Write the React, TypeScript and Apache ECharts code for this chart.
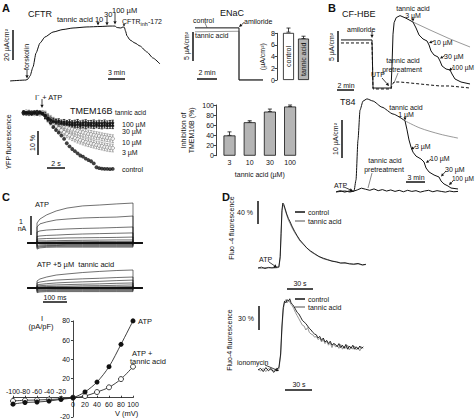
import React, { useEffect, useRef } from "react";
import * as echarts from "echarts";

const FONT = '"Liberation Sans", Arial, Helvetica, sans-serif';
const INK = "#111";
const GRAY = "#9a9a9a";

// ---------- A: CFTR short-circuit current (min, µA/cm²)
const cftrTime = [0, 2.77, 3.12, 3.47, 3.99, 4.51, 5.2, 6.07, 7.45, 9.19, 10.92, 13.34, 15.6, 17.33, 18.2, 18.54, 19.24, 19.58, 19.84, 20.02, 20.28, 20.8, 21.66, 22.53, 23.74, 24.78, 26.0];
const cftrCurrent = [2.7, 3.3, 4.0, 6.0, 12.0, 21.3, 28.0, 32.0, 35.3, 37.0, 38.0, 38.7, 39.0, 39.3, 39.3, 38.3, 38.0, 38.7, 38.3, 36.0, 32.7, 30.0, 28.0, 26.0, 22.0, 18.0, 14.0];

// ---------- A: ENaC trace
const enacTime = [0.2, 4.6, 4.6, 7.0];
const enacControl = [10.2, 10.2, 0.9, 0.9];
const enacTannic = [9.5, 9.6, 0.9, 0.9];
const enacGroups = ["control", "tannic acid"];
const enacMean = [8.2, 7.1];
const enacSem = [0.7, 0.4];

// ---------- A: TMEM16B YFP quenching (s, %)
const tmemTime = [0.4, 0.7, 1.0, 1.3, 1.6, 1.9, 2.2, 2.5, 2.8, 3.1, 3.4, 3.7, 4.0, 4.3, 4.6, 4.9, 5.2, 5.5, 5.8, 6.1, 6.4, 6.7, 7.0, 7.3, 7.6, 7.9, 8.2, 8.5, 8.8, 9.1, 9.4, 9.7, 10.0, 10.3];
const yfpControl = [100.3, 99.8, 100.4, 99.7, 100.5, 99.9, 100.2, 99.6, 98.9, 97.6, 95.9, 94.1, 92.9, 91.8, 90.6, 89.2, 87.4, 86.1, 85.0, 84.1, 83.2, 82.3, 81.8, 81.0, 80.4, 79.9, 79.0, 77.4, 77.0, 76.8, 76.7, 76.7, 76.6, 76.7];
const yfp100 = [100.6, 100.1, 99.5, 100.4, 99.8, 100.7, 100.0, 99.7, 99.0, 98.0, 97.2, 96.7, 96.3, 96.5, 96.0, 96.2, 95.8, 96.1, 95.7, 95.9, 96.2, 95.6, 95.9, 96.1, 95.7, 95.8, 96.0, 95.6, 95.9, 95.7, 96.0, 95.6, 95.8, 95.9];
const yfp30 = [99.6, 100.3, 100.2, 99.5, 100.1, 99.4, 100.5, 100.0, 98.8, 97.7, 96.9, 96.3, 96.0, 95.6, 95.5, 95.3, 95.4, 95.1, 95.2, 94.9, 95.1, 94.8, 95.0, 94.7, 94.9, 94.8, 94.6, 94.9, 94.7, 94.5, 94.8, 94.6, 94.7, 94.6];
const yfp10 = [99.9, 100.6, 99.6, 100.2, 99.8, 100.3, 99.5, 100.1, 99.2, 98.2, 97.4, 96.6, 96.0, 95.4, 94.9, 94.4, 94.0, 93.6, 93.2, 92.9, 92.6, 92.2, 91.9, 91.6, 91.3, 91.1, 90.8, 90.6, 90.4, 90.1, 89.9, 89.7, 89.5, 89.3];
const yfp3 = [100.1, 99.7, 100.5, 100.0, 99.6, 100.2, 99.9, 100.3, 99.0, 97.8, 96.6, 95.5, 94.5, 93.6, 92.8, 92.0, 91.3, 90.7, 90.1, 89.6, 89.1, 88.7, 88.3, 87.9, 87.6, 87.3, 87.0, 86.7, 86.4, 86.2, 85.9, 85.7, 85.5, 85.4];
const yfpErrHigh = 1.1;
const yfpErrLow = 1.6;
const tmemDose = ["3", "10", "30", "100"];
const tmemInhib = [40, 66, 87, 97];
const tmemInhibSem = [7, 3, 5, 3];

// ---------- B: CF-HBE (min, µA/cm²)
const hbeTime = [0.35, 4.0, 4.12, 6.24, 6.35, 6.47, 6.6, 6.85, 7.3, 8.0, 8.82];
const hbeCurrent = [8.6, 8.6, 1.09, 1.09, 4.5, 9.5, 11.3, 12.1, 12.4, 12.0, 11.4];
const hbeBranchTime = [8.82, 9.18, 9.53, 10.0, 10.47, 10.71, 10.94, 11.29, 11.76, 12.0, 12.24, 12.71, 13.18, 13.41, 13.76, 14.47, 15.53];
const hbeBranchCurrent = [11.4, 10.47, 9.38, 8.75, 8.44, 7.81, 6.88, 6.25, 5.94, 5.31, 4.53, 4.06, 3.91, 3.28, 2.5, 2.03, 1.72];
const hbeGrayTime = [8.82, 10.82, 13.18, 15.53];
const hbeGrayCurrent = [11.4, 10.16, 8.75, 7.5];
const hbePreTime = [0.35, 4.0, 4.12, 6.24, 6.35, 6.59, 7.29, 8.47, 9.65, 10.82, 12.0, 13.18, 14.35, 15.53];
const hbePreCurrent = [8.13, 8.13, 0.94, 0.94, 1.56, 2.03, 2.03, 1.88, 1.72, 1.56, 1.41, 1.41, 1.25, 1.09];

// ---------- B: T84 (min, µA/cm²)
const t84Time = [0.17, 1.67, 2.5, 3.17, 3.5, 3.83, 4.17, 4.67, 5.33, 6.33, 7.83, 9.67, 11.67];
const t84Current = [0.83, 1.11, 0.83, 1.11, 4.17, 15.28, 23.6, 26.1, 26.7, 26.1, 24.4, 22.5, 20.6];
const t84GrayTime = [11.67, 14.17, 17.5, 20.5];
const t84GrayCurrent = [20.6, 18.6, 16.9, 15.8];
const t84BranchTime = [11.67, 12.0, 12.33, 12.67, 13.0, 13.5, 14.33, 14.83, 15.17, 15.67, 16.5, 17.33, 17.67, 18.17, 18.83, 19.33, 20.5];
const t84BranchCurrent = [20.6, 18.1, 15.3, 13.3, 11.9, 10.8, 10.0, 9.17, 7.5, 6.39, 5.56, 5.0, 3.89, 3.06, 2.5, 1.94, 1.67];
const t84PreTime = [0.2, 0.9, 1.6, 2.3, 3.0, 3.7, 4.4, 5.1, 5.8, 6.5, 7.2, 7.9, 8.6, 9.3, 10.0, 10.7, 11.4, 12.1, 12.8, 13.5, 14.2, 14.9, 15.6, 16.3, 17.0, 17.7, 18.4, 19.1, 19.8, 20.5];
const t84PreCurrent = [0.9, 1.2, 0.8, 1.1, 1.0, 1.4, 1.9, 1.6, 1.3, 1.7, 1.2, 1.5, 1.1, 1.4, 1.0, 1.3, 0.9, 1.3, 1.0, 1.2, 0.8, 1.1, 1.3, 0.9, 1.2, 1.0, 0.8, 1.1, 0.9, 1.0];

// ---------- C: whole-cell currents (ms, nA)
const stepTime = [0, 12, 40, 80, 125, 190, 260, 330, 400];
const atpCurrents = [
  [1.11, 1.33, 1.56, 1.78, 1.94, 2.06, 2.11, 2.17, 2.22],
  [0.89, 1.06, 1.17, 1.28, 1.33, 1.39, 1.42, 1.44, 1.5],
  [0.61, 0.67, 0.72, 0.75, 0.78, 0.81, 0.83, 0.86, 0.89],
  [0.36, 0.39, 0.42, 0.44, 0.47, 0.5, 0.52, 0.54, 0.56],
  [0.22, 0.23, 0.25, 0.26, 0.28, 0.29, 0.3, 0.31, 0.33],
  [0.11, 0.12, 0.12, 0.13, 0.14, 0.15, 0.16, 0.17, 0.17],
  [0.05, 0.05, 0.06, 0.06, 0.07, 0.07, 0.08, 0.08, 0.08],
  [-0.14, -0.1, -0.09, -0.09, -0.08, -0.08, -0.08, -0.08, -0.08],
  [-0.22, -0.16, -0.14, -0.14, -0.13, -0.13, -0.13, -0.13, -0.13],
  [-0.28, -0.21, -0.19, -0.18, -0.18, -0.18, -0.18, -0.18, -0.18],
  [-0.34, -0.27, -0.24, -0.23, -0.23, -0.23, -0.23, -0.23, -0.23],
];
const taCurrents = [
  [0.39, 0.5, 0.61, 0.72, 0.78, 0.86, 0.92, 0.97, 1.0],
  [0.28, 0.33, 0.39, 0.44, 0.47, 0.51, 0.54, 0.58, 0.61],
  [0.17, 0.2, 0.24, 0.28, 0.31, 0.34, 0.37, 0.41, 0.44],
  [0.11, 0.13, 0.15, 0.17, 0.19, 0.21, 0.23, 0.26, 0.28],
  [0.06, 0.07, 0.08, 0.09, 0.1, 0.12, 0.13, 0.15, 0.17],
  [0.03, 0.03, 0.04, 0.04, 0.05, 0.05, 0.06, 0.07, 0.08],
  [-0.1, -0.07, -0.06, -0.06, -0.06, -0.06, -0.06, -0.06, -0.06],
  [-0.16, -0.12, -0.11, -0.1, -0.1, -0.1, -0.1, -0.1, -0.1],
  [-0.21, -0.17, -0.15, -0.15, -0.15, -0.15, -0.15, -0.15, -0.15],
  [-0.26, -0.22, -0.2, -0.2, -0.2, -0.2, -0.2, -0.2, -0.2],
];
// I-V
const ivVoltage = [-100, -80, -60, -40, -20, 0, 20, 40, 60, 80, 100];
const ivAtp = [-6.7, -5.0, -4.5, -3.5, -1.7, 0, 6.0, 16.3, 32.3, 55.6, 80.0];
const ivAtpTannic = [-3.4, -2.7, -2.4, -1.9, -1.2, 0, 1.7, 5.9, 10.8, 19.4, 32.3];

// ---------- D: Fluo-4 (s, %)
const dTimeA = [0, 4, 8, 12, 16, 20, 24, 25.5, 26.5, 27.5, 28.5, 29.5, 31, 33, 35, 37, 39, 42, 45, 48, 52, 56, 60, 65, 70, 75, 80, 85, 90, 95, 100, 105, 110, 115, 120, 124];
const dCtrlA = [0, 1.5, -1, 1, 0, 1, 2, 20, 60, 100, 113, 111, 104, 94, 86, 80, 73, 64, 56, 49, 42, 35, 30, 25, 20, 17, 14.5, 12, 10.5, 8.5, 9.2, 7.1, 6.8, 7.9, 5.5, 6.4];
const dTannicA = [0, -1, 1, 0, 1, 0, 1, 18, 55, 96, 110, 109, 102, 92, 83, 77, 70, 62, 55, 47, 41, 35, 29, 24, 20, 16, 14, 12, 11, 9, 8, 8, 6, 7, 5, 6];
const dTimeB = [0, 3, 6, 9, 12, 15, 18, 21, 24, 26, 27.5, 29, 30.5, 32, 33.5, 35, 36.5, 38, 39.5, 41, 43, 45, 47, 49, 51, 53, 55, 57, 59, 61, 63, 65, 67, 69, 71, 73, 75, 77, 79, 81, 83, 85, 87, 89, 91, 93, 95, 97, 99, 101, 103, 105, 107, 109, 111, 113, 115, 117, 119, 121];
const dCtrlB = [0, 2, -2, 3, -1, 2, -3, 1, 3, 20, 55, 78, 86, 84, 88, 86, 89, 84, 82, 80, 76, 72, 70, 66, 62, 60, 58, 55, 52, 50, 47, 45, 44, 40, 42, 37, 40, 35, 37, 33, 36, 31, 33, 32, 29, 33, 28, 31, 27, 32, 26, 30, 27, 31, 26, 29, 26, 30, 27, 29];
const dTannicB = [1, -1, 2, -2, 2, 0, -1, 2, 1, 18, 50, 75, 85, 88, 84, 87, 85, 82, 80, 77, 72, 68, 64, 60, 56, 55, 50, 53, 47, 45, 44, 41, 42, 38, 40, 35, 38, 33, 36, 31, 34, 28, 33, 29, 31, 27, 32, 26, 30, 27, 31, 25, 29, 26, 30, 25, 28, 24, 29, 27];

// ---------- helpers
const pairs = (xs: number[], ys: number[]) => xs.map((x, i) => [x, ys[i]]);

const T = (text: string, x: number, y: number, o: any = {}) => {
  const align = o.align || (o.rot ? "center" : "left");
  return {
    type: "text", x, y, rotation: o.rot ? Math.PI / 2 : 0, silent: true, z: 100,
    style: {
      text, fill: o.fill || INK, fontSize: o.size || 7.5, fontFamily: FONT,
      fontWeight: o.bold ? "bold" : "normal",
      align, verticalAlign: "middle", textAlign: align, textVerticalAlign: "middle",
    },
  };
};
const L = (x1: number, y1: number, x2: number, y2: number, w = 1, stroke = INK) => ({
  type: "line", silent: true, z: 100, shape: { x1, y1, x2, y2 }, style: { stroke, lineWidth: w },
});
const A = (x1: number, y1: number, x2: number, y2: number, h = 3.2) => {
  const a = Math.atan2(y2 - y1, x2 - x1);
  const c = Math.cos(a), s = Math.sin(a), w = h * 0.5;
  const bx = x2 - h * c, by = y2 - h * s;
  return [
    L(x1, y1, bx, by, 0.8),
    { type: "polygon", silent: true, z: 100, shape: { points: [[x2, y2], [bx - w * s, by + w * c], [bx + w * s, by - w * c]] }, style: { fill: INK } },
  ];
};

const errRender = (cap: number, color: string) => (params: any, api: any) => {
  const x = api.value(0);
  const lo = api.coord([x, api.value(1)]);
  const hi = api.coord([x, api.value(2)]);
  const st = { stroke: color, lineWidth: 0.8 };
  return {
    type: "group",
    children: [
      { type: "line", shape: { x1: lo[0], y1: lo[1], x2: hi[0], y2: hi[1] }, style: st },
      { type: "line", shape: { x1: hi[0] - cap, y1: hi[1], x2: hi[0] + cap, y2: hi[1] }, style: st },
      { type: "line", shape: { x1: lo[0] - cap, y1: lo[1], x2: lo[0] + cap, y2: lo[1] }, style: st },
    ],
  };
};

function buildOption() {
  const grids = [
    { left: 10, top: 10, width: 150, height: 75 },
    { left: 193, top: 20, width: 70, height: 65 },
    { left: 281, top: 33.3, width: 30, height: 46.7 },
    { left: 20, top: 108.2, width: 99, height: 76.8 },
    { left: 219.4, top: 105, width: 80.8, height: 50.7 },
    { left: 338, top: 10, width: 135, height: 85 },
    { left: 335, top: 95, width: 125, height: 100 },
    { left: 27.4, top: 199.8, width: 115.2, height: 50.4 },
    { left: 27.4, top: 262.8, width: 115.2, height: 32.4 },
    { left: 13, top: 320.9, width: 120, height: 96 },
    { left: 258, top: 195, width: 110, height: 79.9 },
    { left: 258, top: 290, width: 110, height: 90 },
  ].map((g) => ({ ...g, containLabel: false, outerBoundsMode: "none" }));

  const hx = (g: number, min: number, max: number) => ({ type: "value", gridIndex: g, min, max, show: false });
  const axisTxt = { fontSize: 7, color: INK, fontFamily: FONT };
  const axLine = { lineStyle: { color: INK, width: 0.8 } };

  // I-V axes cross at V = 0 mV, I = 0 pA/pF
  const ivZeroFromBottom = 19.2;
  const ivZeroFromTop = 76.8;
  const ivZeroFromLeft = 60;

  const xAxis: any[] = [
    hx(0, 0, 26),
    hx(1, 0, 7),
    { type: "category", gridIndex: 2, data: enacGroups, axisLine: { show: false }, axisTick: { show: false }, axisLabel: { show: false } },
    hx(3, 0, 11),
    {
      type: "category", gridIndex: 4, data: tmemDose, axisLine: { show: false }, axisTick: { show: false },
      axisLabel: { ...axisTxt, margin: 3 }, name: "tannic acid (µM)", nameLocation: "middle", nameGap: 15,
      nameTextStyle: axisTxt,
    },
    hx(5, 0, 15.88),
    hx(6, 0, 20.83),
    hx(7, -40, 440),
    hx(8, -40, 440),
    {
      type: "value", gridIndex: 9, position: "bottom", offset: -ivZeroFromBottom, min: -100, max: 100, interval: 20,
      axisLine: { onZero: false, ...axLine }, axisTick: { length: 2, inside: true, lineStyle: { color: INK, width: 0.8 } },
      splitLine: { show: false },
      axisLabel: { ...axisTxt, margin: 3, formatter: (v: number) => (v >= 0 ? String(v) : "") },
    },
    {
      type: "value", gridIndex: 9, position: "top", offset: -ivZeroFromTop, min: -100, max: 100, interval: 20,
      axisLine: { show: false, onZero: false }, axisTick: { show: false }, splitLine: { show: false },
      axisLabel: { ...axisTxt, margin: 3, formatter: (v: number) => (v < 0 ? String(v) : "") },
    },
    hx(10, 0, 126.4),
    hx(11, 0, 126.4),
  ];

  const yAxis: any[] = [
    hx(0, 0, 50),
    hx(1, 0, 11.607),
    {
      type: "value", gridIndex: 2, min: 0, max: 8, interval: 2, offset: 4,
      axisLine: { show: true, ...axLine }, axisTick: { show: true, length: 2.5, lineStyle: { color: INK, width: 0.8 } },
      splitLine: { show: false }, axisLabel: { ...axisTxt, margin: 2 },
      name: "(µA/cm²)", nameLocation: "middle", nameRotate: 90, nameGap: 11, nameTextStyle: axisTxt,
    },
    hx(3, 70, 102),
    {
      type: "value", gridIndex: 4, min: 0, max: 100, interval: 20, offset: 3.4,
      axisLine: { show: true, ...axLine }, axisTick: { show: true, length: 2.5, lineStyle: { color: INK, width: 0.8 } },
      splitLine: { show: false }, axisLabel: { ...axisTxt, margin: 2 },
      name: "Inhibition of\nTMEM16B (%)", nameLocation: "middle", nameRotate: 90, nameGap: 21,
      nameTextStyle: { ...axisTxt, lineHeight: 8 },
    },
    hx(5, 0, 13.28),
    hx(6, 0, 27.78),
    hx(7, -0.4, 2.4),
    hx(8, -0.4, 1.4),
    {
      type: "value", gridIndex: 9, position: "left", offset: -ivZeroFromLeft, min: -20, max: 80, interval: 20,
      axisLine: { show: true, onZero: false, ...axLine }, axisTick: { length: 2, lineStyle: { color: INK, width: 0.8 } },
      splitLine: { show: false },
      axisLabel: { ...axisTxt, margin: 3, formatter: (v: number) => (v === 0 ? "" : String(v)) },
    },
    hx(10, -12, 127),
    hx(11, -12.5, 100),
  ];

  const line = (xi: number, yi: number, data: number[][], color = INK, w = 1, extra: any = {}) => {
    const { lineStyle: ls, ...rest } = extra;
    return {
      type: "line", xAxisIndex: xi, yAxisIndex: yi, data, showSymbol: false, silent: true, ...rest,
      lineStyle: { color, width: w, ...(ls || {}) }, itemStyle: { color },
    };
  };

  const series: any[] = [];
  // CFTR
  series.push(line(0, 0, pairs(cftrTime, cftrCurrent), INK, 1, { smooth: 0.2, smoothMonotone: "x" }));
  // ENaC trace
  series.push(line(1, 1, pairs(enacTime, enacTannic), GRAY, 1));
  series.push(line(1, 1, pairs(enacTime, enacControl), INK, 1));
  // ENaC bars
  series.push({
    type: "bar", xAxisIndex: 2, yAxisIndex: 2, barWidth: 11, silent: true,
    data: enacMean.map((v, i) => ({ value: v, itemStyle: { color: i === 0 ? "#fff" : "#b5b5b5", borderColor: INK, borderWidth: 0.8 } })),
    label: { show: true, position: "inside", rotate: 90, formatter: (p: any) => enacGroups[p.dataIndex], fontSize: 7, color: INK, fontFamily: FONT },
  });
  series.push({
    type: "custom", xAxisIndex: 2, yAxisIndex: 2, silent: true, renderItem: errRender(2, INK),
    data: enacMean.map((v, i) => [i, v, v + enacSem[i]]),
  });
  // TMEM16B YFP
  const errData = (ys: number[], e: number) => tmemTime.map((t, i) => [t, ys[i] - e, ys[i] + e]).filter((d) => d[0] >= 2.8);
  series.push({ type: "custom", xAxisIndex: 3, yAxisIndex: 3, silent: true, renderItem: errRender(1.2, "#999"), data: errData(yfp10, yfpErrLow) });
  series.push({ type: "custom", xAxisIndex: 3, yAxisIndex: 3, silent: true, renderItem: errRender(1.2, "#999"), data: errData(yfp3, yfpErrLow) });
  series.push({ type: "custom", xAxisIndex: 3, yAxisIndex: 3, silent: true, renderItem: errRender(1.2, INK), data: errData(yfp100, yfpErrHigh) });
  series.push({ type: "custom", xAxisIndex: 3, yAxisIndex: 3, silent: true, renderItem: errRender(1.2, INK), data: errData(yfp30, yfpErrHigh) });
  const open = { color: "#fff", borderColor: "#666", borderWidth: 0.7 };
  series.push({ type: "scatter", xAxisIndex: 3, yAxisIndex: 3, silent: true, symbolSize: 3.6, itemStyle: open, data: pairs(tmemTime, yfp10) });
  series.push({ type: "scatter", xAxisIndex: 3, yAxisIndex: 3, silent: true, symbolSize: 3.6, itemStyle: open, data: pairs(tmemTime, yfp3) });
  series.push({ type: "scatter", xAxisIndex: 3, yAxisIndex: 3, silent: true, symbolSize: 3.2, itemStyle: { color: INK }, data: pairs(tmemTime, yfp30) });
  series.push({ type: "scatter", xAxisIndex: 3, yAxisIndex: 3, silent: true, symbolSize: 3.2, itemStyle: { color: INK }, data: pairs(tmemTime, yfp100) });
  series.push({ type: "scatter", xAxisIndex: 3, yAxisIndex: 3, silent: true, symbolSize: 3.8, itemStyle: { color: INK }, data: pairs(tmemTime, yfpControl) });
  // TMEM16B bars
  series.push({
    type: "bar", xAxisIndex: 4, yAxisIndex: 4, barWidth: 12, silent: true,
    itemStyle: { color: "#b5b5b5", borderColor: INK, borderWidth: 0.8 }, data: tmemInhib,
  });
  series.push({
    type: "custom", xAxisIndex: 4, yAxisIndex: 4, silent: true, renderItem: errRender(2, INK),
    data: tmemInhib.map((v, i) => [i, v, v + tmemInhibSem[i]]),
  });
  // CF-HBE
  series.push(line(5, 5, pairs(hbePreTime, hbePreCurrent), INK, 1, { lineStyle: { type: [3, 2] } }));
  series.push(line(5, 5, pairs(hbeGrayTime, hbeGrayCurrent), GRAY, 1));
  series.push(line(5, 5, pairs(hbeTime, hbeCurrent), INK, 1));
  series.push(line(5, 5, pairs(hbeBranchTime, hbeBranchCurrent), INK, 1));
  // T84
  series.push(line(6, 6, pairs(t84PreTime, t84PreCurrent), INK, 1));
  series.push(line(6, 6, pairs(t84GrayTime, t84GrayCurrent), GRAY, 1, { smooth: 0.3 }));
  series.push(line(6, 6, pairs(t84Time, t84Current), INK, 1, { smooth: 0.2, smoothMonotone: "x" }));
  series.push(line(6, 6, pairs(t84BranchTime, t84BranchCurrent), INK, 1));
  // C current families
  const fam = (rows: number[][], xi: number, yi: number) =>
    rows.forEach((row) =>
      series.push(line(xi, yi, [[-40, 0], [0, 0], ...stepTime.map((t, i) => [t, row[i]]), [400, 0], [440, 0]], INK, 0.6))
    );
  fam(atpCurrents, 7, 7);
  fam(taCurrents, 8, 8);
  series.push(line(7, 7, [[-40, 0], [440, 0]], INK, 1.8));
  series.push(line(8, 8, [[-40, 0], [440, 0]], INK, 1.8));
  // I-V
  series.push({
    type: "line", xAxisIndex: 9, yAxisIndex: 9, silent: true, smooth: 0.3, symbol: "circle", symbolSize: 5,
    itemStyle: { color: "#fff", borderColor: INK, borderWidth: 0.8 }, lineStyle: { color: INK, width: 0.8 },
    data: pairs(ivVoltage, ivAtpTannic),
  });
  series.push({
    type: "line", xAxisIndex: 9, yAxisIndex: 9, silent: true, smooth: 0.3, symbol: "circle", symbolSize: 5,
    itemStyle: { color: INK }, lineStyle: { color: INK, width: 0.8 },
    data: pairs(ivVoltage, ivAtp),
  });
  // D
  series.push(line(11, 10, pairs(dTimeA, dTannicA), "#8a8a8a", 0.9));
  series.push(line(11, 10, pairs(dTimeA, dCtrlA), INK, 0.9));
  series.push(line(12, 11, pairs(dTimeB, dTannicB), "#8a8a8a", 0.9));
  series.push(line(12, 11, pairs(dTimeB, dCtrlB), INK, 0.9));

  const g: any[] = [
    T("A", 2, 8, { size: 11, bold: true }),
    T("B", 328, 8, { size: 11, bold: true }),
    T("C", 2, 197, { size: 11, bold: true }),
    T("D", 222, 197, { size: 11, bold: true }),
    // CFTR
    T("CFTR", 28, 14, { size: 9 }),
    T("tannic acid 10", 57, 19),
    T("30", 104, 14.5),
    T("100 µM", 112, 10),
    T("CFTR", 122, 21.5, { size: 7 }),
    T("inh", 140.5, 24, { size: 5.5 }),
    T("-172", 148, 21.5, { size: 7 }),
    ...A(98, 22, 98, 25.5),
    ...A(107, 17, 107, 25.5),
    ...A(115, 13, 115, 24.5),
    ...A(124, 24.5, 124, 26.8, 2.6),
    T("forskolin", 26, 57, { rot: true, size: 7 }),
    ...A(27, 70, 27, 78.5),
    L(13, 30, 13, 60, 1.5),
    T("20 µA/cm²", 6, 45, { rot: true, size: 7 }),
    T("3 min", 116.5, 72, { align: "center", size: 7 }),
    L(108, 79, 125, 79, 1.5),
    // ENaC
    T("ENaC", 220, 13, { size: 9 }),
    T("control", 193, 20, { size: 7 }),
    L(205, 23, 207, 27.5, 0.5),
    T("tannic acid", 195, 35, { size: 7 }),
    T("amiloride", 244, 21, { size: 7 }),
    ...A(244, 22.5, 239, 27),
    L(193, 32, 193, 61, 1.5),
    T("5 µA/cm²", 186, 46, { rot: true, size: 7 }),
    T("2 min", 207, 72, { align: "center", size: 7 }),
    L(197, 79, 217, 79, 1.5),
    // TMEM16B
    T("I⁻ + ATP", 35, 97),
    ...A(42, 99, 42, 108),
    T("TMEM16B", 70, 111, { size: 9 }),
    T("tannic acid", 115, 112, { size: 6.5 }),
    T("100 µM", 122, 124, { size: 7 }),
    T("30 µM", 122, 131, { size: 7 }),
    T("10 µM", 122, 142, { size: 7 }),
    T("3 µM", 122, 152, { size: 7 }),
    T("control", 122, 169, { size: 7 }),
    T("YFP fluorescence", 8, 142, { rot: true, size: 7 }),
    L(38, 131, 38, 155, 1.5),
    T("10 %", 32, 143, { rot: true, size: 7 }),
    T("2 s", 56, 163, { align: "center", size: 7 }),
    L(47, 168, 65, 168, 1.5),
    // CF-HBE
    T("CF-HBE", 342, 14, { size: 9 }),
    T("amiloride", 347, 29, { size: 7 }),
    ...A(372, 31, 372, 38),
    L(338, 31, 338, 62, 1.5),
    T("5 µA/cm²", 331, 47, { rot: true, size: 7 }),
    T("2 min", 346, 85, { align: "center", size: 7 }),
    L(337, 90, 354, 90, 1.5),
    T("UTP", 371, 74, { size: 7 }),
    ...A(382, 78, 389, 86),
    T("tannic acid", 413, 8, { align: "center", size: 7 }),
    T("3 µM", 413, 15, { align: "center", size: 7 }),
    ...A(413, 17.5, 413, 21.5, 3),
    T("10 µM", 433, 42, { size: 7 }),
    ...A(434, 41, 429, 43, 3),
    T("30 µM", 444, 56, { size: 7 }),
    ...A(445, 55.5, 440, 58.5, 3),
    T("100 µM", 452, 67, { size: 6.5 }),
    ...A(453, 67.5, 449, 70.5, 3),
    T("tannic acid", 403, 60, { align: "center", size: 7 }),
    T("pretreatment", 402, 69, { align: "center", size: 7 }),
    L(398, 73, 394, 83, 0.5),
    // T84
    T("T84", 340, 102, { size: 9 }),
    L(342, 120, 342, 158, 1.5),
    T("10 µA/cm²", 335, 139, { rot: true, size: 7 }),
    T("ATP", 334, 185, { size: 7 }),
    ...A(344, 187, 353, 191),
    T("tannic acid", 406, 107, { align: "center", size: 7 }),
    T("1 µM", 406, 114, { align: "center", size: 7 }),
    ...A(405, 116.5, 405, 120.5, 3),
    T("3 µM", 415, 146, { size: 7 }),
    ...A(416, 146, 411, 149.5, 3),
    T("10 µM", 430, 158, { size: 7 }),
    ...A(431, 159, 426, 163, 3),
    T("30 µM", 445, 169, { size: 7 }),
    ...A(446, 171, 441, 176.5, 3),
    T("100 µM", 452, 178, { size: 6.5 }),
    ...A(453, 181, 449, 185, 3),
    T("tannic acid", 385, 160, { align: "center", size: 7 }),
    T("pretreatment", 384, 169, { align: "center", size: 7 }),
    L(372, 173, 368, 188, 0.5),
    T("3 min", 416, 177, { align: "center", size: 7 }),
    L(406, 182, 425, 182, 1.5),
    // C
    T("ATP", 35, 204),
    L(31, 216, 31, 235, 1.5),
    T("1", 21, 221, { align: "center", size: 7 }),
    T("nA", 22, 228, { align: "center", size: 7 }),
    T("ATP +5 µM  tannic acid", 37, 264),
    T("100 ms", 55, 297, { align: "center", size: 7 }),
    L(43, 302, 67, 302, 1.5),
    T("I", 42, 318, { align: "center" }),
    T("(pA/pF)", 41, 326, { align: "center" }),
    T("ATP", 138, 321),
    T("ATP +", 132, 353),
    T("tannic acid", 130, 361),
    T("V (mV)", 115, 413),
    // D
    T("Fluo -4 fluorescence", 231, 228, { rot: true, size: 7 }),
    T("40 %", 237, 212, { size: 7 }),
    L(258, 201, 258, 224, 1.5),
    T("ATP", 259, 259, { size: 7 }),
    ...A(269, 262, 277, 267.5),
    L(295, 212, 305, 212, 1.5),
    L(295, 221, 305, 221, 1.5, "#8a8a8a"),
    T("control", 308, 212, { size: 7 }),
    T("tannic acid", 308, 221, { size: 7 }),
    T("30 s", 300, 283, { align: "center", size: 7 }),
    L(287, 289, 313, 289, 1.5),
    T("30 %", 238, 318, { size: 7 }),
    L(259, 306, 259, 330, 1.5),
    T("Fluo-4 fluorescence", 229, 340, { rot: true, size: 7 }),
    T("ionomycin", 237, 362, { size: 7 }),
    ...A(265, 365, 279, 371),
    L(295, 299, 305, 299, 1.5),
    L(295, 307, 305, 307, 1.5, "#8a8a8a"),
    T("control", 308, 299, { size: 7 }),
    T("tannic acid", 308, 307, { size: 7 }),
    T("30 s", 299, 384, { align: "center", size: 7 }),
    L(285, 390, 312, 390, 1.5),
  ];

  return {
    animation: false,
    backgroundColor: "#fff",
    textStyle: { fontFamily: FONT },
    grid: grids,
    xAxis,
    yAxis,
    series,
    graphic: { elements: g },
  };
}

export default function App() {
  const ref = useRef<HTMLDivElement>(null);
  useEffect(() => {
    document.body.style.margin = "0";
    const chart = echarts.init(ref.current!, null, { renderer: "svg", width: 476, height: 419 });
    chart.setOption(buildOption() as any);
    return () => chart.dispose();
  }, []);
  return (
    <div
      ref={ref}
      style={{ position: "absolute", left: 0, top: 0, width: 476, height: 419, background: "#fff", opacity: 0.995 }}
    />
  );
}
